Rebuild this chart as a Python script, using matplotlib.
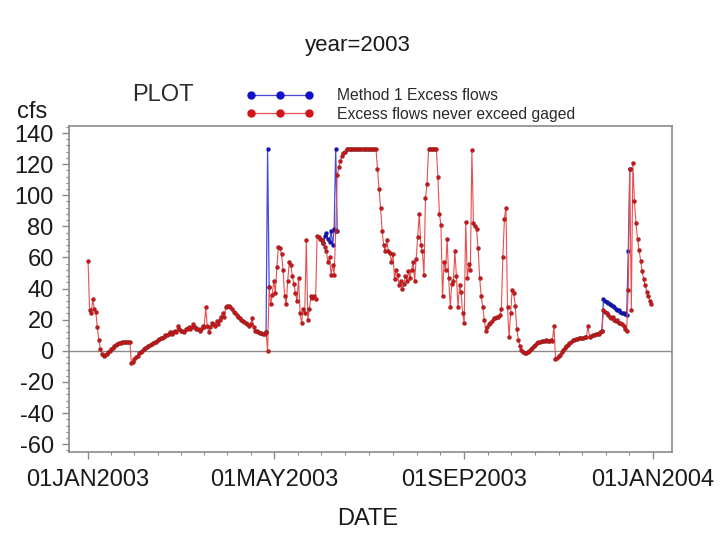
import numpy as np
import pandas as pd
import matplotlib
matplotlib.use("Agg")
import matplotlib.pyplot as plt
import matplotlib.dates as mdates
from matplotlib.lines import Line2D

plt.rcParams["font.family"] = ["Liberation Sans", "DejaVu Sans"]
plt.rcParams["axes.unicode_minus"] = False

# daily values for 2003 (cfs), "Excess flows never exceed gaged"
gaged_values = [
    # Jan
    58, 26, 24, 33, 27, 25, 15, 7, 1, -2, -3, -2.5, -2, -1, 0, 1, 2, 3, 4, 4.5,
    5, 5.3, 5.5, 5.6, 5.7, 5.8, 6, 6, -8, -7, -5,
    # Feb
    -4, -3, -1.5, -1, 0, 1, 2, 2.5, 3, 4, 4.5, 5, 5.5, 6, 7, 7.5, 8, 8.5, 9, 10,
    10, 11, 12, 11, 12, 13, 12, 16,
    # Mar
    14, 13, 13, 12, 14, 14, 15, 14, 15, 17, 15, 14, 14, 13, 14, 16, 15, 28, 16, 12,
    15, 18, 17, 16, 19, 17, 20, 22, 24, 22, 28,
    # Apr
    29, 29, 28, 27, 25, 24, 23, 22, 21, 20, 19, 18.5, 18, 17, 16, 17, 21, 15, 13, 12.5,
    12, 11.5, 11.5, 11, 11, 12, 0, 41, 30, 36,
    # May
    45, 37, 54, 67, 66, 62, 52, 35, 30, 45, 57, 55, 48, 43, 37, 32, 47, 24, 18, 27,
    24, 71, 20, 27, 35, 34, 35, 33, 74, 73, 72,
    # Jun
    71, 69, 67, 64, 57, 60, 49, 55, 49, 77, 113, 118, 122, 125, 127, 128, 130, 130, 130, 130,
    130, 130, 130, 130, 130, 130, 130, 130, 130, 130,
    # Jul
    130, 130, 130, 130, 130, 130, 117, 104, 92, 77, 68, 64, 71, 64, 63, 57, 62, 46, 52, 49,
    42, 45, 40, 43, 48, 45, 51, 47, 52, 57, 45,
    # Aug
    59, 73, 88, 68, 64, 49, 98, 107, 130, 130, 130, 130, 130, 130, 112, 88, 81, 35, 57, 52,
    72, 47, 28, 43, 45, 64, 48, 28, 42, 38, 24,
    # Sep
    18, 83, 47, 56, 52, 129, 82, 80, 78, 66, 47, 35, 28, 20, 13, 15, 17, 18, 19, 21,
    21, 22, 22, 23, 27, 60, 85, 92, 28, 9,
    # Oct
    24, 39, 37, 29, 14, 7, 3, 0.5, -1, -1.5, -1.5, -1, 0, 1, 2, 3, 4, 5, 5.5, 6,
    6.5, 6.5, 6.5, 7, 6.5, 6.5, 7, 6.5, 16, -5, -4.5,
    # Nov
    -3.5, -2.5, -1, 0.5, 2, 3, 4, 5, 6, 7, 7, 7.5, 7.5, 8, 8, 8.5, 8.5, 9, 9, 16,
    9, 9.5, 10, 10, 10.5, 11, 11, 12, 13, 26,
    # Dec
    25, 24, 23, 22, 21, 22, 20, 19, 20, 18, 18, 17, 16, 14, 13, 39, 117, 26, 121, 96,
    82, 72, 65, 58, 51, 46, 42, 38, 35, 32, 30,
]

# "Method 1 Excess flows" where it departs from the gaged curve
method1_starts = ["2003-04-26", "2003-06-01", "2003-11-29"]
method1_values = [
    [12, 130, 41],
    [71, 69, 74, 76, 72, 70, 77, 68, 78, 130, 77],
    [13, 33, 32, 31.5, 31, 30, 29.5, 29, 28, 27, 26.5, 26, 25, 24.5, 24, 23.5, 23, 64, 117],
]

tick_dates = ["2003-01-01", "2003-05-01", "2003-09-01", "2004-01-01"]
tick_labels = ["01JAN2003", "01MAY2003", "01SEP2003", "01JAN2004"]

red_line = "#e8504f"
red_dot = "#d01418"
blue_line = "#4848d8"
blue_dot = "#1010c8"
text_col = "#1a1a1a"


def main():
    fig = plt.figure(figsize=(7.22, 5.38), dpi=100)
    ax = fig.add_axes([0.0956, 0.1599, 0.8352, 0.6059])

    gaged_dates = pd.date_range("2003-01-01", periods=len(gaged_values), freq="D")

    for start, vals in zip(method1_starts, method1_values):
        d = pd.date_range(start, periods=len(vals), freq="D")
        ax.plot(d, vals, color=blue_line, lw=0.9, marker="o", ms=2.8,
                mfc=blue_dot, mec="#202060", mew=0.3, zorder=2)

    ax.plot(gaged_dates, gaged_values, color=red_line, lw=0.8, marker="o", ms=2.8,
            mfc=red_dot, mec="#702020", mew=0.3, zorder=3)

    ax.axhline(0, color="#8a8a8a", lw=1.0, zorder=1)

    t0 = mdates.date2num(pd.Timestamp("2003-01-01"))
    ax.set_xlim(t0 - 12.3, t0 + 377.3)
    ax.set_ylim(-65, 144.5)

    majors = [mdates.date2num(pd.Timestamp(t)) for t in tick_dates]
    minors = []
    for a, b in zip(majors[:-1], majors[1:]):
        minors += list(np.linspace(a, b, 9)[1:-1])
    ax.set_xticks(majors)
    ax.set_xticklabels(tick_labels)
    ax.set_xticks(minors, minor=True)

    ax.set_yticks(np.arange(-60, 141, 20))
    ax.set_yticks(np.arange(-64, 145, 4), minor=True)

    for s in ax.spines.values():
        s.set_color("#8a8a8a")
        s.set_linewidth(1.2)
    ax.tick_params(which="major", length=5, width=1.0, color="#8a8a8a",
                   labelsize=17, labelcolor=text_col)
    ax.tick_params(axis="x", which="major", pad=7)
    ax.tick_params(axis="y", which="major", pad=6)
    ax.tick_params(which="minor", length=2.5, width=0.8, color="#8a8a8a")

    fig.text(358 / 722, 1 - 45 / 538, "year=2003", ha="center", va="center",
             fontsize=16, color=text_col)
    fig.text(163 / 722, 1 - 95 / 538, "PLOT", ha="center", va="center",
             fontsize=17, color="#2a2a2a")
    fig.text(17 / 722, 1 - 112 / 538, "cfs", ha="left", va="center",
             fontsize=17, color=text_col)
    fig.text(368 / 722, 1 - 519 / 538, "DATE", ha="center", va="center",
             fontsize=17, color=text_col)

    handles = [
        Line2D([], [], color=blue_line, lw=0.9, marker="o", ms=5, mfc=blue_dot, mec=blue_dot),
        Line2D([], [], color=red_line, lw=0.9, marker="o", ms=5, mfc=red_dot, mec=red_dot),
    ]
    fig.legend(handles, ["Method 1 Excess flows", "Excess flows never exceed gaged"],
               loc="center left", bbox_to_anchor=(238 / 722, 1 - 105 / 538),
               frameon=False, numpoints=3, handlelength=4.3, handletextpad=1.5,
               labelspacing=0.2, fontsize=11.3, borderpad=0, labelcolor="#2a2a2a")

    fig.savefig("out.png", dpi=100)
    plt.close(fig)


if __name__ == "__main__":
    main()
